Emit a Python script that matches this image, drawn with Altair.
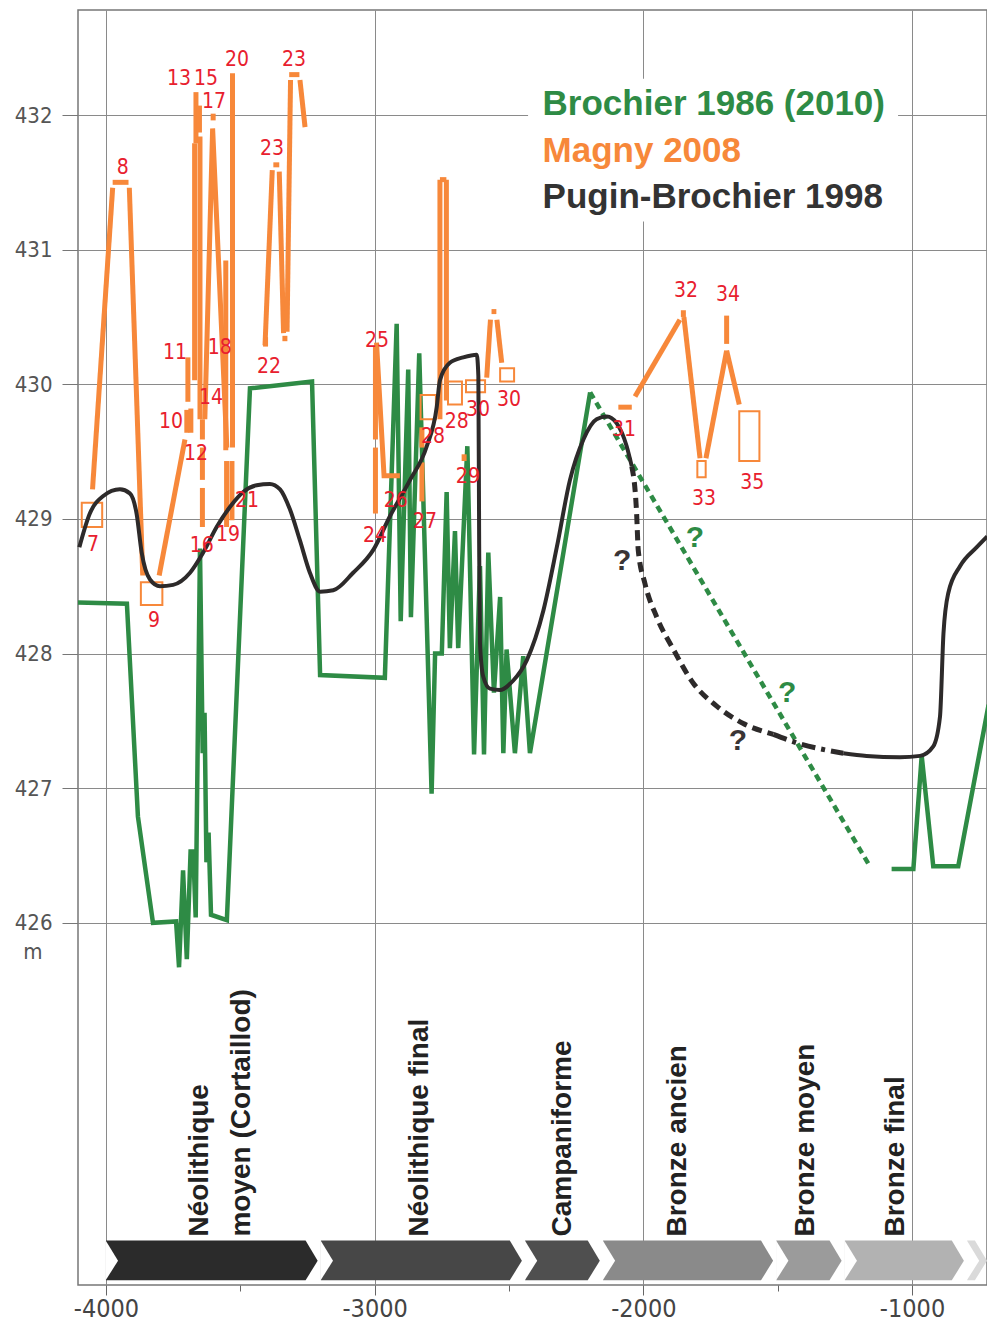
import altair as alt
import pandas as pd

GREEN = "#2E8B45"
ORANGE = "#F7883A"
DARK = "#2d2a2a"
RED = "#E8202E"
NARROW = "DejaVu Sans Condensed, Liberation Sans Narrow, sans-serif"
SANS = "Liberation Sans, Arial, sans-serif"

# ---------------- data (year BC as negative, lake level in m) ----------------
# Brochier 1986 (2010) - solid
green_years = [-4104, -3922, -3881, -3825, -3739, -3728, -3713, -3699, -3685, -3675,
               -3666, -3650, -3640, -3633, -3626, -3618, -3609, -3550, -3464, -3233,
               -3203, -2962, -2918, -2903, -2875, -2865, -2834, -2788, -2775, -2750,
               -2732, -2720, -2701, -2689, -2655, -2630, -2608, -2593, -2577, -2556,
               -2533, -2521, -2509, -2478, -2447, -2422, -2198]
green_elev = [428.38, 428.37, 426.79, 426.00, 426.01, 425.67, 426.39, 425.73, 426.53, 426.53,
              426.04, 428.78, 427.26, 427.56, 426.45, 426.67, 426.06, 426.02, 429.97, 430.02,
              427.84, 427.82, 430.45, 428.24, 430.11, 428.27, 430.23, 426.96, 428.00, 428.00,
              429.20, 428.04, 428.91, 428.04, 429.54, 427.25, 428.65, 427.25, 428.75, 427.71,
              428.42, 427.26, 428.03, 427.26, 427.98, 427.26, 429.94]
green_dot_years = [-2198, -1154]
green_dot_elev = [429.94, 426.41]
green_late_years = [-1076, -995, -964, -921, -828, -715]
green_late_elev = [426.40, 426.40, 427.24, 426.42, 426.42, 427.62]

# Pugin-Brochier 1998
black_years = [-4099, -4060, -4010, -3948, -3911, -3886, -3867, -3836, -3799, -3750,
               -3687, -3638, -3588, -3538, -3489, -3439, -3390, -3352, -3315, -3278,
               -3241, -3203, -3154, -3080, -3005, -2943, -2868, -2806, -2769, -2757,
               -2720, -2670, -2620, -2614, -2611, -2608, -2596, -2571, -2533, -2484,
               -2434, -2372, -2322, -2273, -2223, -2174, -2136, -2099, -2062, -2043]
black_elev = [428.79, 429.04, 429.17, 429.22, 429.19, 429.04, 428.75, 428.55, 428.50, 428.51,
              428.60, 428.75, 428.94, 429.09, 429.20, 429.25, 429.26, 429.22, 429.07, 428.84,
              428.60, 428.46, 428.47, 428.60, 428.77, 429.02, 429.29, 429.54, 429.83, 430.03,
              430.16, 430.20, 430.22, 430.06, 428.82, 428.08, 427.83, 427.74, 427.73, 427.80,
              427.95, 428.32, 428.79, 429.29, 429.59, 429.74, 429.76, 429.71, 429.54, 429.39]
black_dash_years = [-2043, -2025, -2019, -1994, -1950, -1888, -1814, -1727, -1628, -1516]
black_dash_elev = [429.39, 429.04, 428.77, 428.52, 428.27, 428.03, 427.78, 427.61, 427.48, 427.40]
black_dashdot_years = [-1516, -1417, -1256]
black_dashdot_elev = [427.40, 427.33, 427.26]
black_late_years = [-1256, -1169, -1045, -970, -921, -896, -883, -865, -821, -759, -720]
black_late_elev = [427.26, 427.24, 427.23, 427.24, 427.31, 427.53, 428.15, 428.45, 428.65, 428.79, 428.87]

# Magny 2008 - line pieces (segment id, year, level)
orange_seg = [1, 1, 2, 2, 3, 3, 4, 4, 5, 5, 6, 6, 7, 7, 8, 8, 9, 9, 10, 10,
              11, 11, 12, 12, 13, 13, 14, 14, 15, 15, 15, 16, 16, 17, 17, 18, 18, 19, 19,
              20, 20, 21, 21, 22, 22, 23, 23, 24, 24, 25, 25, 26, 26, 27, 27, 28, 28,
              29, 29, 30, 30, 31, 31, 31, 32, 32, 33, 33, 34, 34, 35, 35, 36, 36, 37, 37,
              38, 38, 39, 39, 40, 40, 41, 41, 42, 42, 43, 43, 44, 44, 45, 45, 46, 46, 47, 47]
orange_year = [-4050, -3975, -3975, -3916, -3913, -3863, -3802, -3706, -3699, -3699,
               -3684, -3684, -3695, -3695, -3670, -3670, -3665, -3665, -3652, -3652,
               -3650, -3650, -3641, -3641, -3641, -3641, -3641, -3641, -3632, -3603, -3550,
               -3601, -3601, -3554, -3554, -3529, -3529, -3551, -3551,
               -3531, -3531, -3408, -3381, -3377, -3355, -3355, -3339, -3406, -3406,
               -3334, -3334, -3326, -3313, -3318, -3280, -3278, -3259,
               -2997, -2997, -2997, -2997, -2993, -2965, -2906, -2824, -2824, -2824, -2824,
               -2757, -2757, -2733, -2733, -2757, -2733, -2667, -2667,
               -2583, -2569, -2565, -2547, -2545, -2527, -2093, -2043, -2031, -1864,
               -1851, -1851, -1849, -1789, -1767, -1690, -1690, -1690, -1690, -1643]
orange_elev = [429.22, 431.46, 431.50, 431.50, 431.46, 428.58, 428.58, 429.59, 429.81, 429.64,
               429.82, 429.64, 430.20, 429.87, 431.79, 430.03, 432.17, 431.79, 432.07, 431.87,
               431.84, 429.74, 429.74, 429.59, 429.53, 429.29, 429.23, 428.94, 429.74, 431.90, 429.53,
               432.01, 431.96, 430.92, 429.51, 432.31, 429.53, 429.43, 428.94,
               429.43, 428.99, 430.29, 431.59, 431.63, 431.63, 431.58, 430.38, 430.35, 430.28,
               430.36, 430.32, 430.39, 432.26, 432.30, 432.30, 432.26, 431.91,
               430.28, 429.59, 429.53, 429.04, 430.31, 429.32, 429.32, 429.68, 429.53, 429.42, 429.13,
               431.52, 429.74, 431.52, 429.88, 431.52, 431.52, 429.48, 429.43,
               430.05, 430.48, 430.54, 430.54, 430.48, 430.16, 429.83, 429.83, 429.91, 430.48,
               430.55, 430.50, 430.50, 429.45, 429.45, 430.25, 430.51, 430.30, 430.25, 429.85]

# Magny 2008 - boxes
box_x1 = [-4090, -3870, -2829, -2727, -2660, -2533, -1799, -1643]
box_x2 = [-4014, -3790, -2772, -2675, -2589, -2481, -1768, -1568]
box_top = [429.12, 428.53, 429.92, 430.02, 430.03, 430.12, 429.43, 429.80]
box_bot = [428.94, 428.36, 429.74, 429.85, 429.94, 430.02, 429.31, 429.43]

# site numbers
site_text = ["7", "8", "9", "10", "11", "12", "13", "14", "15", "16", "17", "18", "19", "20",
             "21", "22", "23", "23", "24", "25", "26", "27", "28", "28", "29", "30", "30",
             "31", "32", "33", "34", "35"]
site_year = [-4048, -3937, -3821, -3758, -3743, -3665, -3728, -3609, -3628, -3643, -3598,
             -3576, -3546, -3512, -3475, -3393, -3382, -3300, -2999, -2991, -2921, -2813,
             -2783, -2694, -2653, -2615, -2500, -2072, -1841, -1774, -1685, -1595]
site_elev = [428.81, 431.61, 428.24, 429.72, 430.23, 429.48, 432.27, 429.90, 432.27, 428.80,
             432.10, 430.27, 428.88, 432.41, 429.13, 430.13, 431.75, 432.41, 428.87, 430.32,
             429.13, 428.98, 429.61, 429.72, 429.31, 429.81, 429.88, 429.66, 430.69, 429.15,
             430.66, 429.27]

# question marks
q_year = [-2079, -1648, -1808, -1465]
q_elev = [428.69, 427.35, 428.86, 427.71]
q_series = ["Pugin-Brochier 1998", "Pugin-Brochier 1998", "Brochier 1986 (2010)", "Brochier 1986 (2010)"]

# legend
legend_text = ["Brochier 1986 (2010)", "Magny 2008", "Pugin-Brochier 1998"]
legend_year = [-2375, -2375, -2375]
legend_elev = [432.08, 431.73, 431.39]
legend_box_x = [-2429, -1052]
legend_box_y = [432.27, 431.21]

# cultural periods
period_text = ["Néolithique", "moyen (Cortaillod)", "Néolithique final", "Campaniforme",
               "Bronze ancien", "Bronze moyen", "Bronze final"]
period_text_year = [-3650, -3494, -2831, -2299, -1871, -1395, -1060]
period_bounds = [-4000, -3200, -2440, -2150, -1505, -1250, -795, -709]
period_colors = ["#2b2b2b", "#474747", "#4f4f4f", "#8a8a8a", "#9b9b9b", "#b2b2b2", "#dadada"]

# ---------------- styles ----------------
LABEL_ELEV = 423.67
BAND = [423.64, 423.49, 423.345]
NOTCH = 45
GAP = 12

x_scale = alt.Scale(domain=[-4104, -721], nice=False, zero=False)
y_scale = alt.Scale(domain=[423.31, 432.78], nice=False, zero=False)

major = "datum.value % 1000 === 0"
x_axis = alt.Axis(
    values=[-4000, -3500, -3000, -2500, -2000, -1500, -1000],
    labelExpr=f"{major} ? toString(datum.value) : ''",
    grid=True, gridColor="#8a8a8a", gridWidth=1,
    gridOpacity={"condition": {"test": major, "value": 1}, "value": 0},
    tickSize={"condition": {"test": major, "value": 10}, "value": 6},
    tickColor="#666", domain=False, title=None,
    labelFont=NARROW, labelFontSize=25, labelColor="#444", labelPadding=1,
)
y_axis = alt.Axis(
    values=[426, 427, 428, 429, 430, 431, 432], format="d",
    grid=True, gridColor="#8a8a8a", gridWidth=1,
    tickSize=16, tickColor="#777", domain=False, title=None,
    labelFont=NARROW, labelFontSize=22, labelColor="#555", labelPadding=10,
)


def X(f, **kw):
    return alt.X(f, type="quantitative", scale=x_scale, axis=x_axis, **kw)


def Y(f, **kw):
    return alt.Y(f, type="quantitative", scale=y_scale, axis=y_axis, **kw)


# ---------------- tables ----------------
green_df = pd.DataFrame({
    "year": green_years + green_late_years,
    "elev": green_elev + green_late_elev,
    "seg": [0] * len(green_years) + [1] * len(green_late_years),
})
green_df["i"] = range(len(green_df))
green_dot_df = pd.DataFrame({"year": green_dot_years, "elev": green_dot_elev})

black_df = pd.DataFrame({
    "year": black_years + black_late_years,
    "elev": black_elev + black_late_elev,
    "seg": [0] * len(black_years) + [1] * len(black_late_years),
})
black_df["i"] = range(len(black_df))
black_dash_df = pd.DataFrame({"year": black_dash_years, "elev": black_dash_elev})
black_dd_df = pd.DataFrame({"year": black_dashdot_years, "elev": black_dashdot_elev})

orange_df = pd.DataFrame({"seg": orange_seg, "year": orange_year, "elev": orange_elev})
orange_df["i"] = range(len(orange_df))
box_df = pd.DataFrame({"x1": box_x1, "x2": box_x2, "top": box_top, "bot": box_bot})
site_df = pd.DataFrame({"t": site_text, "year": site_year, "elev": site_elev})
q_df = pd.DataFrame({"t": ["?"] * 4, "year": q_year, "elev": q_elev, "s": q_series})
legend_df = pd.DataFrame({"t": legend_text, "year": legend_year, "elev": legend_elev})
legend_box_df = pd.DataFrame({"x1": [legend_box_x[0]], "x2": [legend_box_x[1]],
                              "y1": [legend_box_y[0]], "y2": [legend_box_y[1]]})
period_df = pd.DataFrame({"t": period_text, "year": period_text_year,
                          "elev": [LABEL_ELEV] * len(period_text)})

# chevron bodies (pointed on the right) and the white notch on their left side
body_rows, notch_rows = [], []
for k in range(len(period_bounds) - 1):
    s = period_bounds[k]
    e = period_bounds[k + 1] - GAP
    name = f"p{k}"
    body_rows += [
        {"p": name, "x": s, "top": BAND[0], "bot": BAND[2]},
        {"p": name, "x": e - NOTCH, "top": BAND[0], "bot": BAND[2]},
        {"p": name, "x": e, "top": BAND[1], "bot": BAND[1]},
    ]
    notch_rows += [
        {"p": name, "x": s - 1, "top": BAND[0], "bot": BAND[2]},
        {"p": name, "x": s + NOTCH, "top": BAND[1], "bot": BAND[1]},
    ]
body_df = pd.DataFrame(body_rows)
notch_df = pd.DataFrame(notch_rows)

# ---------------- layers ----------------
legend_box = alt.Chart(legend_box_df).mark_rect(color="white").encode(
    x=X("x1"), x2="x2", y=Y("y1"), y2="y2")

chevrons = alt.Chart(body_df).mark_area(opacity=1).encode(
    x=X("x"), y=Y("top", stack=None), y2="bot",
    color=alt.Color("p:N", scale=alt.Scale(domain=[f"p{k}" for k in range(len(period_colors))],
                                           range=period_colors), legend=None),
)
notches = alt.Chart(notch_df).mark_area(color="white", opacity=1).encode(
    x=X("x"), y=Y("top", stack=None), y2="bot", detail="p:N")

period_labels = alt.Chart(period_df).mark_text(
    angle=270, align="left", baseline="middle", font=SANS, fontWeight="bold",
    fontSize=28, color="#222").encode(x=X("year"), y=Y("elev"), text="t:N")

green_line = alt.Chart(green_df).mark_line(color=GREEN, strokeWidth=4.5).encode(
    x=X("year"), y=Y("elev"), detail="seg:N", order="i:Q")
green_dot = alt.Chart(green_dot_df).mark_line(color=GREEN, strokeWidth=4.5,
                                              strokeDash=[7, 5]).encode(x=X("year"), y=Y("elev"))

orange_lines = alt.Chart(orange_df).mark_line(color=ORANGE, strokeWidth=5).encode(
    x=X("year"), y=Y("elev"), detail="seg:N", order="i:Q")
orange_boxes = alt.Chart(box_df).mark_rect(filled=False, stroke=ORANGE, strokeWidth=2).encode(
    x=X("x1"), x2="x2", y=Y("top"), y2="bot")

black_line = alt.Chart(black_df).mark_line(color=DARK, strokeWidth=4, interpolate="monotone").encode(
    x=X("year"), y=Y("elev"), detail="seg:N", order="i:Q")
black_dash = alt.Chart(black_dash_df).mark_line(color=DARK, strokeWidth=5, interpolate="monotone",
                                                strokeDash=[10, 6]).encode(x=X("year"), y=Y("elev"))
black_dd = alt.Chart(black_dd_df).mark_line(color=DARK, strokeWidth=5, interpolate="monotone",
                                            strokeDash=[14, 6, 4, 6]).encode(x=X("year"), y=Y("elev"))

site_labels = alt.Chart(site_df).mark_text(
    font=NARROW, fontSize=21, color=RED, align="center", baseline="middle").encode(
    x=X("year"), y=Y("elev"), text="t:N")

q_labels = alt.Chart(q_df).mark_text(
    font=SANS, fontWeight="bold", fontSize=30, align="center", baseline="middle").encode(
    x=X("year"), y=Y("elev"), text="t:N",
    color=alt.Color("s:N", scale=alt.Scale(domain=["Pugin-Brochier 1998", "Brochier 1986 (2010)"],
                                           range=["#3a3535", GREEN]), legend=None))

legend_labels = alt.Chart(legend_df).mark_text(
    font=SANS, fontWeight="bold", fontSize=35, align="left", baseline="middle").encode(
    x=X("year"), y=Y("elev"), text="t:N",
    color=alt.Color("t:N", scale=alt.Scale(domain=legend_text, range=[GREEN, ORANGE, "#333"]),
                    legend=None))

unit_label = alt.Chart(pd.DataFrame({"t": ["m"], "year": [-4272], "elev": [425.78]})).mark_text(
    font=NARROW, fontSize=22, color="#555", align="center", baseline="middle").encode(
    x=X("year"), y=Y("elev"), text="t:N")

chart = alt.layer(
    legend_box, chevrons, notches, period_labels, green_line, green_dot, orange_lines, orange_boxes,
    black_line, black_dash, black_dd, site_labels, q_labels, legend_labels, unit_label,
).resolve_scale(color="independent").properties(
    width=909, height=1275,
    padding={"left": 70, "top": 2, "right": 0, "bottom": 41},
    autosize=alt.AutoSizeParams(type="none"),
).configure_view(stroke="#777", strokeWidth=1.5)

chart.save("out.html", embed_options={"renderer": "svg", "actions": False})
